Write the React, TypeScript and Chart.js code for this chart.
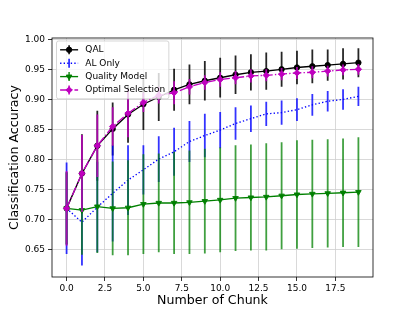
import React, { useEffect, useRef } from 'react';
import { Chart, registerables } from 'chart.js';

Chart.register(...registerables);

// ---------- data ----------
const chunks = [0, 1, 2, 3, 4, 5, 6, 7, 8, 9, 10, 11, 12, 13, 14, 15, 16, 17, 18, 19];

const qalAcc = [0.719, 0.777, 0.823, 0.851, 0.875, 0.892, 0.904, 0.916, 0.925, 0.931, 0.936, 0.941, 0.945, 0.947, 0.950, 0.953, 0.955, 0.957, 0.959, 0.961];
const qalErr = [0.060, 0.065, 0.058, 0.044, 0.047, 0.043, 0.040, 0.035, 0.033, 0.033, 0.033, 0.032, 0.030, 0.031, 0.029, 0.028, 0.028, 0.026, 0.026, 0.024];

const alAcc = [0.719, 0.696, 0.721, 0.744, 0.766, 0.783, 0.801, 0.813, 0.830, 0.840, 0.849, 0.860, 0.868, 0.876, 0.878, 0.883, 0.891, 0.897, 0.900, 0.905];
const alErr = [0.076, 0.072, 0.075, 0.080, 0.058, 0.041, 0.038, 0.040, 0.034, 0.036, 0.030, 0.027, 0.022, 0.020, 0.020, 0.019, 0.018, 0.017, 0.017, 0.016];

const qmAcc = [0.719, 0.716, 0.722, 0.719, 0.720, 0.726, 0.728, 0.728, 0.729, 0.731, 0.733, 0.736, 0.737, 0.738, 0.740, 0.742, 0.743, 0.744, 0.745, 0.746];
const qmErr = [0.060, 0.074, 0.077, 0.078, 0.079, 0.083, 0.082, 0.085, 0.086, 0.087, 0.087, 0.088, 0.088, 0.089, 0.089, 0.090, 0.090, 0.090, 0.090, 0.091];

const optAcc = [0.719, 0.777, 0.823, 0.855, 0.877, 0.895, 0.907, 0.911, 0.921, 0.928, 0.933, 0.936, 0.939, 0.940, 0.942, 0.944, 0.945, 0.947, 0.949, 0.950];
const optErr = [0.062, 0.064, 0.052, 0.032, 0.040, 0.016, 0.014, 0.019, 0.013, 0.012, 0.012, 0.011, 0.011, 0.010, 0.010, 0.010, 0.010, 0.009, 0.009, 0.009];

const seriesLabels = ['QAL', 'AL Only', 'Quality Model', 'Optimal Selection'];
const xTickValues = [0, 2.5, 5, 7.5, 10, 12.5, 15, 17.5];
const yTickValues = [0.65, 0.7, 0.75, 0.8, 0.85, 0.9, 0.95, 1.0];
const xTitle = 'Number of Chunk';
const yTitle = 'Classification Accuracy';

// ---------- styles ----------
const FONT = "'DejaVu Sans', sans-serif";
const styles = [
  { color: '#000000', bar: 'rgba(0,0,0,0.85)', dash: [] as number[], marker: 'circle', radius: 2.7 },
  { color: '#0000ff', bar: 'rgba(0,0,255,0.8)', dash: [1.35, 2.2], marker: 'none', radius: 0 },
  { color: '#008000', bar: 'rgba(0,128,0,0.75)', dash: [] as number[], marker: 'triangleDown', radius: 3.2 },
  { color: '#bf00bf', bar: 'rgba(191,0,191,0.85)', dash: [8.6, 2.2, 1.35, 2.2], marker: 'diamond', radius: 3.2 },
];
const means = [qalAcc, alAcc, qmAcc, optAcc];
const errs = [qalErr, alErr, qmErr, optErr];

function drawMarker(ctx: CanvasRenderingContext2D, kind: string, x: number, y: number, r: number, color: string) {
  if (kind === 'none') return;
  ctx.save();
  ctx.setLineDash([]);
  ctx.fillStyle = color;
  ctx.strokeStyle = color;
  ctx.lineWidth = 0.9;
  ctx.beginPath();
  if (kind === 'circle') {
    ctx.arc(x, y, r, 0, Math.PI * 2);
  } else if (kind === 'triangleDown') {
    const h = r * 0.5;
    ctx.moveTo(x, y + r);
    ctx.lineTo(x - r * Math.sin(Math.PI / 3), y - h);
    ctx.lineTo(x + r * Math.sin(Math.PI / 3), y - h);
    ctx.closePath();
  } else if (kind === 'diamond') {
    ctx.moveTo(x, y - r);
    ctx.lineTo(x + r, y);
    ctx.lineTo(x, y + r);
    ctx.lineTo(x - r, y);
    ctx.closePath();
  }
  ctx.fill();
  ctx.stroke();
  ctx.restore();
}

const errorBarPlugin = {
  id: 'errorBars',
  beforeDatasetDraw(chart: any, args: any) {
    const ds = chart.data.datasets[args.index];
    if (!ds.errors) return;
    const { ctx, chartArea, scales } = chart;
    ctx.save();
    ctx.beginPath();
    ctx.rect(chartArea.left, chartArea.top, chartArea.right - chartArea.left, chartArea.bottom - chartArea.top);
    ctx.clip();
    ctx.strokeStyle = ds.errorColor;
    ctx.lineWidth = 1.8;
    ctx.setLineDash([]);
    ctx.beginPath();
    ds.data.forEach((p: any, i: number) => {
      const x = scales.x.getPixelForValue(p.x);
      ctx.moveTo(x, scales.y.getPixelForValue(p.y - ds.errors[i]));
      ctx.lineTo(x, scales.y.getPixelForValue(p.y + ds.errors[i]));
    });
    ctx.stroke();
    ctx.restore();
  },
};

const framePlugin = {
  id: 'frame',
  afterDatasetsDraw(chart: any) {
    const { ctx, chartArea } = chart;
    ctx.save();
    ctx.strokeStyle = '#000';
    ctx.lineWidth = 0.8;
    ctx.setLineDash([]);
    ctx.strokeRect(chartArea.left, chartArea.top, chartArea.right - chartArea.left, chartArea.bottom - chartArea.top);
    ctx.restore();
  },
};

const legendPlugin = {
  id: 'mplLegend',
  afterDraw(chart: any) {
    const { ctx, chartArea } = chart;
    ctx.save();
    ctx.font = `9px ${FONT}`;
    const fs = 9;
    const left = chartArea.left + 4.5;
    const top = chartArea.top + 3;
    const pad = 3.6;
    const handleLen = 18;
    const textGap = 7.2;
    const rowStep = 13.4;
    const rowH = 10.4;
    const textW = Math.max(...seriesLabels.map((l) => ctx.measureText(l).width));
    const width = pad + handleLen + textGap + textW + pad;
    const height = pad * 2 + rowH * seriesLabels.length + (rowStep - rowH) * (seriesLabels.length - 1);
    // frame
    ctx.beginPath();
    const r = 2;
    ctx.moveTo(left + r, top);
    ctx.lineTo(left + width - r, top);
    ctx.quadraticCurveTo(left + width, top, left + width, top + r);
    ctx.lineTo(left + width, top + height - r);
    ctx.quadraticCurveTo(left + width, top + height, left + width - r, top + height);
    ctx.lineTo(left + r, top + height);
    ctx.quadraticCurveTo(left, top + height, left, top + height - r);
    ctx.lineTo(left, top + r);
    ctx.quadraticCurveTo(left, top, left + r, top);
    ctx.closePath();
    ctx.fillStyle = 'rgba(255,255,255,0.8)';
    ctx.fill();
    ctx.strokeStyle = 'rgba(204,204,204,0.9)';
    ctx.lineWidth = 0.9;
    ctx.stroke();

    seriesLabels.forEach((label, i) => {
      const st = styles[i];
      const cy = top + pad + rowH / 2 + i * rowStep;
      const x0 = left + pad;
      const xm = x0 + handleLen / 2;
      // line
      ctx.save();
      ctx.strokeStyle = st.color;
      ctx.lineWidth = 1.35;
      ctx.setLineDash(st.dash);
      ctx.beginPath();
      ctx.moveTo(x0, cy);
      ctx.lineTo(x0 + handleLen, cy);
      ctx.stroke();
      ctx.restore();
      // error bar
      ctx.save();
      ctx.strokeStyle = st.bar;
      ctx.lineWidth = 1.8;
      ctx.setLineDash([]);
      ctx.beginPath();
      ctx.moveTo(xm, cy - fs * 0.5);
      ctx.lineTo(xm, cy + fs * 0.5);
      ctx.stroke();
      ctx.restore();
      drawMarker(ctx, st.marker, xm, cy, st.radius, st.color);
      ctx.fillStyle = '#000';
      ctx.textBaseline = 'middle';
      ctx.textAlign = 'left';
      ctx.fillText(label, x0 + handleLen + textGap, cy);
    });
    ctx.restore();
  },
};

const pointStyleFor = (m: string) => (m === 'circle' ? 'circle' : m === 'triangleDown' ? 'triangle' : m === 'diamond' ? 'rectRot' : 'circle');

export default function App() {
  const canvasRef = useRef<HTMLCanvasElement | null>(null);

  useEffect(() => {
    if (!canvasRef.current) return;
    Chart.defaults.font.family = FONT;
    const datasets = seriesLabels.map((label, si) => {
      const st = styles[si];
      return {
        label,
        data: chunks.map((c, i) => ({ x: c, y: means[si][i] })),
        errors: errs[si],
        errorColor: st.bar,
        borderColor: st.color,
        backgroundColor: st.color,
        borderWidth: 1.35,
        borderDash: st.dash,
        pointStyle: pointStyleFor(st.marker),
        pointRotation: st.marker === 'triangleDown' ? 180 : 0,
        pointRadius: st.radius,
        pointBorderWidth: 0.9,
        pointBackgroundColor: st.color,
        pointBorderColor: st.color,
        tension: 0,
        fill: false,
        order: 4 - si,
      } as any;
    });

    const chart = new Chart(canvasRef.current, {
      type: 'line',
      data: { datasets },
      options: {
        animation: false,
        responsive: false,
        devicePixelRatio: 1,
        layout: { padding: { top: 38, right: 42, left: 0, bottom: 0 } },
        plugins: { legend: { display: false }, tooltip: { enabled: false } },
        scales: {
          x: {
            type: 'linear',
            min: -0.95,
            max: 19.95,
            afterFit: (s: any) => { s.height = 34; },
            afterBuildTicks: (s: any) => { s.ticks = xTickValues.map((v) => ({ value: v })); },
            ticks: {
              font: { size: 9 },
              color: '#000',
              padding: 2,
              maxRotation: 0,
              autoSkip: false,
              callback: (v: any) => Number(v).toFixed(1),
            },
            grid: { color: '#cfcfcf', lineWidth: 0.8, tickColor: '#000', tickLength: 4, tickWidth: 0.8 },
            border: { display: false },
            title: { display: true, text: xTitle, font: { size: 12.6 }, color: '#000', padding: { top: 0, bottom: 3 } },
          },
          y: {
            type: 'linear',
            min: 0.605,
            max: 1.002,
            afterFit: (s: any) => { s.width = 52; },
            afterBuildTicks: (s: any) => { s.ticks = yTickValues.map((v) => ({ value: v })); },
            ticks: {
              font: { size: 9 },
              color: '#000',
              padding: 3,
              autoSkip: false,
              callback: (v: any) => Number(v).toFixed(2),
            },
            grid: { color: '#cfcfcf', lineWidth: 0.8, tickColor: '#000', tickLength: 4, tickWidth: 0.8 },
            border: { display: false },
            title: { display: true, text: yTitle, font: { size: 12.6 }, color: '#000', padding: { top: 7.5, bottom: 0 } },
          },
        },
      } as any,
      plugins: [errorBarPlugin, framePlugin, legendPlugin],
    });
    return () => chart.destroy();
  }, []);

  return (
    <div style={{ position: 'fixed', left: 0, top: 0, width: 415, height: 311, background: '#fff' }}>
      <canvas ref={canvasRef} width={415} height={311} style={{ display: 'block' }} />
    </div>
  );
}
